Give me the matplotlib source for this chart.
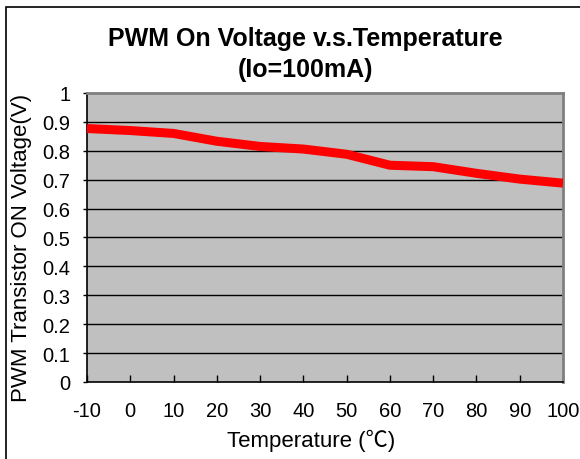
import matplotlib
matplotlib.use("Agg")
import matplotlib.pyplot as plt
from matplotlib.patches import Rectangle

temperature = [-10, 0, 10, 20, 30, 40, 50, 55, 60, 70, 80, 90, 100]
voltage = [0.877, 0.870, 0.860, 0.833, 0.815, 0.806, 0.788, 0.769, 0.750, 0.745, 0.722, 0.702, 0.688]
x_ticks = [-10, 0, 10, 20, 30, 40, 50, 60, 70, 80, 90, 100]
y_ticks = [0, 0.1, 0.2, 0.3, 0.4, 0.5, 0.6, 0.7, 0.8, 0.9, 1]
y_tick_labels = ["0", "0.1", "0.2", "0.3", "0.4", "0.5", "0.6", "0.7", "0.8", "0.9", "1"]

plt.rcParams['font.family'] = ['Liberation Sans', 'Noto Sans CJK SC', 'DejaVu Sans']

fig = plt.figure(figsize=(5.8, 4.6), dpi=100)
ax = fig.add_axes([0.150, 0.1674, 0.8207, 0.6283])
ax.set_facecolor('#c0c0c0')

for yv in y_ticks[1:-1]:
    ax.axhline(yv, color='black', lw=1.0, zorder=1)

ax.plot(temperature, voltage, color='#ff0000', lw=6.5, solid_capstyle='butt',
        solid_joinstyle='round', zorder=3)

ax.set_xlim(-10, 100)
ax.set_ylim(0, 1)
ax.set_xticks(x_ticks)
ax.set_xticklabels([str(t) for t in x_ticks])
ax.set_yticks(y_ticks)
ax.set_yticklabels(y_tick_labels)
ax.tick_params(axis='x', direction='in', length=5, width=1, pad=14, labelsize=14.5)
ax.tick_params(axis='y', direction='out', length=3, width=1, pad=9, labelsize=14.5)

for s in ['left', 'bottom']:
    ax.spines[s].set_color('black')
    ax.spines[s].set_linewidth(1.2)
for s in ['top', 'right']:
    ax.spines[s].set_color('#808080')
    ax.spines[s].set_linewidth(2.0)

ax.set_xlabel('Temperature (℃)', fontsize=16, va='center', ha='center')
ax.xaxis.set_label_coords(0.47, -0.2)
ax.set_ylabel('PWM Transistor ON Voltage(V)', fontsize=16, va='center', ha='center')
ax.yaxis.set_label_coords(-0.137, 0.467)

fig.text(0.526, 0.915, 'PWM On Voltage v.s.Temperature', ha='center', va='center',
         fontsize=18, fontweight='bold')
fig.text(0.526, 0.848, '(Io=100mA)', ha='center', va='center',
         fontsize=18, fontweight='bold')

fig.patches.append(Rectangle((6 / 580, -0.05), 1.2, 1 - 8 / 460 + 0.05,
                             transform=fig.transFigure, fill=False,
                             edgecolor='black', lw=1.2, clip_on=False))

fig.savefig('out.png', dpi=100)
